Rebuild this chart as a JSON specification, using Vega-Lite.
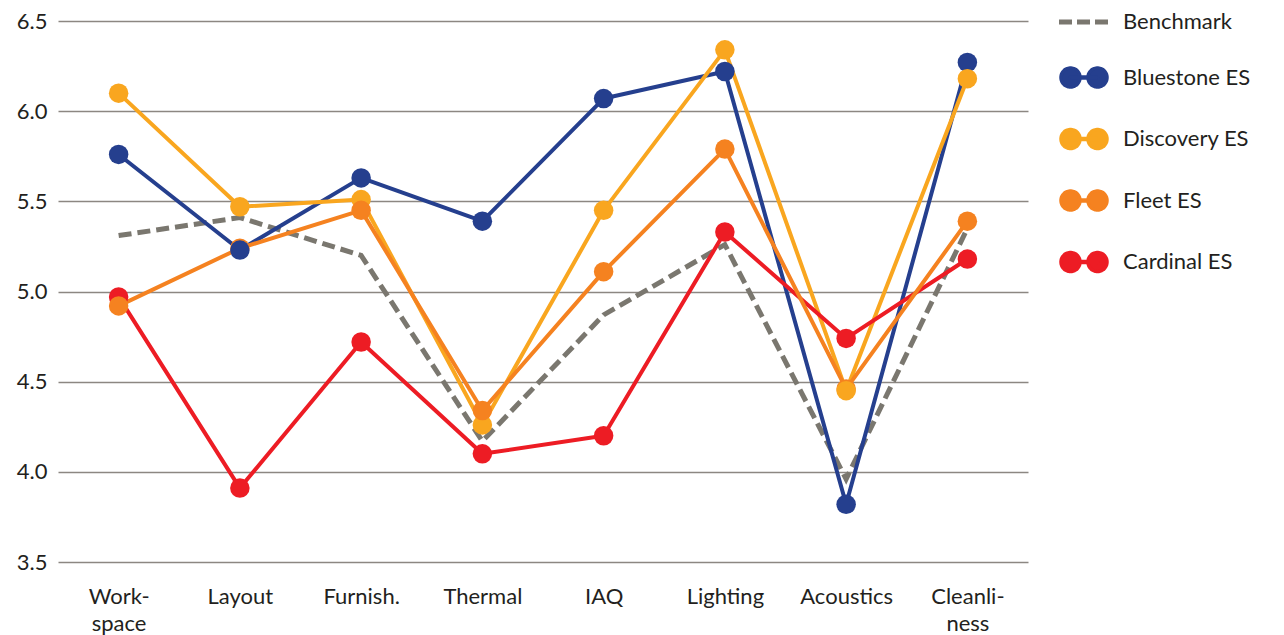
{
  "$schema": "https://vega.github.io/schema/vega-lite/v6.json",
  "width": 970,
  "height": 541,
  "autosize": {"type": "none"},
  "padding": {"left": 58, "top": 21, "right": 256, "bottom": 73},
  "background": "white",
  "config": {
    "view": {"stroke": null},
    "font": "Lato",
    "axis": {"labelFont": "Lato", "labelFontSize": 22, "labelColor": "#231f20", "titleFont": "Lato"},
    "legend": {"labelFont": "Lato", "labelFontSize": 22, "labelColor": "#231f20"}
  },
  "data": {
    "values": [
      {"category": "Workspace", "series": "Benchmark", "value": 5.31},
      {"category": "Workspace", "series": "Bluestone ES", "value": 5.76},
      {"category": "Workspace", "series": "Discovery ES", "value": 6.10},
      {"category": "Workspace", "series": "Cardinal ES", "value": 4.97},
      {"category": "Workspace", "series": "Fleet ES", "value": 4.92},
      {"category": "Layout", "series": "Benchmark", "value": 5.41},
      {"category": "Layout", "series": "Discovery ES", "value": 5.47},
      {"category": "Layout", "series": "Cardinal ES", "value": 3.91},
      {"category": "Layout", "series": "Fleet ES", "value": 5.24},
      {"category": "Layout", "series": "Bluestone ES", "value": 5.23},
      {"category": "Furnish.", "series": "Benchmark", "value": 5.20},
      {"category": "Furnish.", "series": "Bluestone ES", "value": 5.63},
      {"category": "Furnish.", "series": "Cardinal ES", "value": 4.72},
      {"category": "Furnish.", "series": "Discovery ES", "value": 5.51},
      {"category": "Furnish.", "series": "Fleet ES", "value": 5.45},
      {"category": "Thermal", "series": "Benchmark", "value": 4.17},
      {"category": "Thermal", "series": "Bluestone ES", "value": 5.39},
      {"category": "Thermal", "series": "Cardinal ES", "value": 4.10},
      {"category": "Thermal", "series": "Discovery ES", "value": 4.26},
      {"category": "Thermal", "series": "Fleet ES", "value": 4.34},
      {"category": "IAQ", "series": "Benchmark", "value": 4.87},
      {"category": "IAQ", "series": "Bluestone ES", "value": 6.07},
      {"category": "IAQ", "series": "Cardinal ES", "value": 4.20},
      {"category": "IAQ", "series": "Discovery ES", "value": 5.45},
      {"category": "IAQ", "series": "Fleet ES", "value": 5.11},
      {"category": "Lighting", "series": "Benchmark", "value": 5.26},
      {"category": "Lighting", "series": "Cardinal ES", "value": 5.33},
      {"category": "Lighting", "series": "Fleet ES", "value": 5.79},
      {"category": "Lighting", "series": "Discovery ES", "value": 6.34},
      {"category": "Lighting", "series": "Bluestone ES", "value": 6.22},
      {"category": "Acoustics", "series": "Benchmark", "value": 3.96},
      {"category": "Acoustics", "series": "Bluestone ES", "value": 3.82},
      {"category": "Acoustics", "series": "Cardinal ES", "value": 4.74},
      {"category": "Acoustics", "series": "Fleet ES", "value": 4.46},
      {"category": "Acoustics", "series": "Discovery ES", "value": 4.45},
      {"category": "Cleanliness", "series": "Benchmark", "value": 5.35},
      {"category": "Cleanliness", "series": "Cardinal ES", "value": 5.18},
      {"category": "Cleanliness", "series": "Fleet ES", "value": 5.39},
      {"category": "Cleanliness", "series": "Bluestone ES", "value": 6.27},
      {"category": "Cleanliness", "series": "Discovery ES", "value": 6.18}
    ]
  },
  "encoding": {
    "x": {
      "field": "category",
      "type": "nominal",
      "sort": ["Workspace", "Layout", "Furnish.", "Thermal", "IAQ", "Lighting", "Acoustics", "Cleanliness"],
      "scale": {"type": "point", "padding": 0.5},
      "axis": {
        "title": null,
        "domain": false,
        "ticks": false,
        "grid": false,
        "labelAngle": 0,
        "labelPadding": 24,
        "labelLineHeight": 27,
        "labelExpr": "datum.value === 'Workspace' ? ['Work-', 'space'] : datum.value === 'Cleanliness' ? ['Cleanli-', 'ness'] : datum.value"
      }
    },
    "y": {
      "field": "value",
      "type": "quantitative",
      "scale": {"domain": [3.5, 6.5], "zero": false, "nice": false},
      "axis": {
        "title": null,
        "domain": false,
        "ticks": false,
        "values": [3.5, 4.0, 4.5, 5.0, 5.5, 6.0, 6.5],
        "format": ".1f",
        "labelPadding": 11,
        "grid": true,
        "gridColor": "#8c8782",
        "gridWidth": 1.5
      }
    },
    "color": {
      "field": "series",
      "type": "nominal",
      "scale": {
        "domain": ["Benchmark", "Bluestone ES", "Discovery ES", "Fleet ES", "Cardinal ES"],
        "range": ["#7a776f", "#253f8e", "#f9a61f", "#f58220", "#ed1c24"]
      },
      "legend": {
        "title": null,
        "orient": "none",
        "legendX": 1015,
        "legendY": -10,
        "padding": 0,
        "symbolSize": 2500,
        "symbolType": "M-1,0L1,0",
        "labelOffset": 28,
        "rowPadding": 27.5,
        "labelFontSize": 22,
        "encode": {
          "symbols": {
            "update": {
              "size": {"value": 2500},
              "shape": {"signal": "datum.value === 'Benchmark' ? 'M-1,0L1,0' : 'M-0.92,0A0.38,0.38 0 1,0 -0.16,0A0.38,0.38 0 1,0 -0.92,0Z M0.16,0A0.38,0.38 0 1,0 0.92,0A0.38,0.38 0 1,0 0.16,0Z M-0.54,-0.02L-0.54,0.02L0.54,0.02L0.54,-0.02Z'"},
              "fill": {"signal": "datum.value === 'Benchmark' ? 'transparent' : scale('color', datum.value)"},
              "stroke": {"signal": "scale('color', datum.value)"},
              "strokeWidth": {"signal": "datum.value === 'Benchmark' ? 5 : 3.5"},
              "strokeDash": {"signal": "datum.value === 'Benchmark' ? [13, 5] : [1, 0]"},
              "opacity": {"value": 1}
            }
          }
        }
      }
    }
  },
  "layer": [
    {
      "transform": [{"filter": "datum.series === 'Benchmark'"}],
      "mark": {"type": "line", "strokeWidth": 5, "strokeDash": [13, 6]},
      "encoding": {}
    },
    {
      "transform": [{"filter": "datum.series !== 'Benchmark'"}],
      "mark": {"type": "line", "strokeWidth": 4, "strokeJoin": "round"},
      "encoding": {}
    },
    {
      "transform": [{"filter": "datum.series !== 'Benchmark'"}],
      "mark": {"type": "point", "filled": true, "size": 380, "opacity": 1},
      "encoding": {}
    }
  ]
}
